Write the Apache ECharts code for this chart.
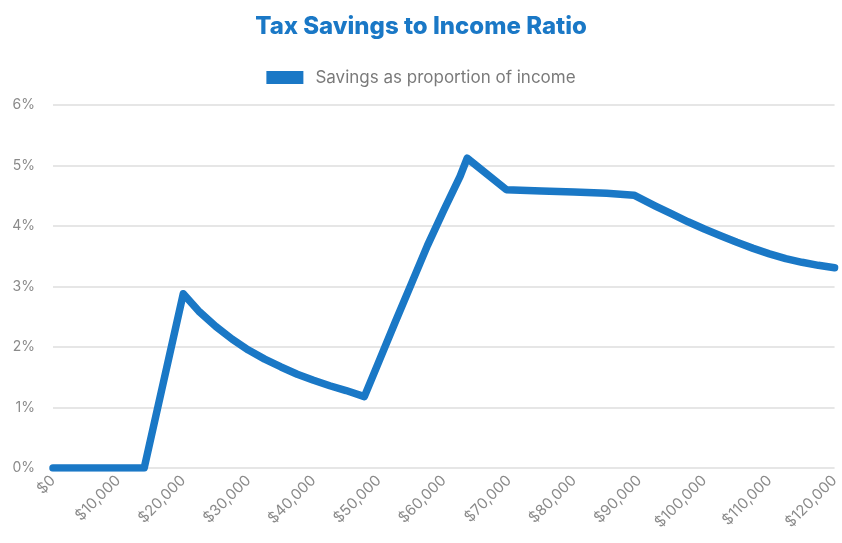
<!DOCTYPE html>
<html>
<head>
<meta charset="utf-8">
<script src="https://cdn.jsdelivr.net/npm/echarts@6/dist/echarts.min.js"></script>
<style>
html,body{margin:0;padding:0;background:#fff;}
#chart{width:842px;height:543px;}
</style>
</head>
<body>
<div id="chart"></div>
<script>
const titleText = 'Tax Savings to Income Ratio';
const seriesName = 'Savings as proportion of income';
const incomes = [0, 14000, 20000, 22500, 25000, 27500, 30000, 32500, 35000, 37500, 40000, 42500, 45000, 47800,
  50000, 52500, 55000, 57500, 60000, 62500, 63600, 69600, 75000, 80000, 85000, 89200,
  92500, 95000, 97500, 100000, 102500, 105000, 107500, 110000, 112500, 115000, 117500, 120000];
const ratios = [0, 0, 2.88, 2.58, 2.34, 2.13, 1.95, 1.80, 1.67, 1.55, 1.45, 1.36, 1.28, 1.18,
  1.75, 2.40, 3.04, 3.68, 4.26, 4.82, 5.12, 4.60, 4.58, 4.56, 4.54, 4.51,
  4.33, 4.20, 4.07, 3.95, 3.84, 3.73, 3.63, 3.54, 3.46, 3.40, 3.35, 3.31];
const yTicks = [0, 1, 2, 3, 4, 5, 6];

const points = incomes.map((x, i) => [x, ratios[i]]);
const fmtMoney = v => '$' + Math.round(v).toLocaleString('en-US');

const chart = echarts.init(document.getElementById('chart'));
chart.setOption({
  animation: false,
  backgroundColor: '#ffffff',
  title: {
    text: titleText,
    left: 'center',
    top: 10,
    textStyle: {fontFamily: 'Inter', fontWeight: 800, fontSize: 24, color: '#1a78c6'}
  },
  legend: {
    data: [{name: seriesName, icon: 'rect'}],
    left: 'center',
    top: 64,
    itemWidth: 37,
    itemHeight: 13,
    textStyle: {fontFamily: 'Inter', fontSize: 17, color: '#7a7a7a', padding: [0, 0, 0, 7]}
  },
  grid: {left: 53, right: 6, top: 105, bottom: 75, containLabel: false},
  xAxis: {
    type: 'value',
    min: 0, max: 120000, interval: 10000,
    axisLine: {show: false},
    axisTick: {show: false},
    splitLine: {show: false},
    axisLabel: {
      rotate: 45, margin: 10,
      formatter: fmtMoney,
      fontFamily: 'Inter', fontSize: 15, color: '#8a8a8a'
    }
  },
  yAxis: {
    type: 'value',
    min: yTicks[0], max: yTicks[yTicks.length - 1], interval: 1,
    axisLine: {show: false},
    axisTick: {show: false},
    splitLine: {lineStyle: {color: '#dedede', width: 1.5}},
    axisLabel: {
      formatter: '{value}%', margin: 18,
      fontFamily: 'Inter', fontSize: 14, color: '#8a8a8a'
    }
  },
  series: [{
    name: seriesName,
    type: 'line',
    data: points,
    showSymbol: false,
    symbol: 'none',
    color: '#1a78c6',
    lineStyle: {width: 7.5, color: '#1a78c6', cap: 'round', join: 'round'}
  }]
});
</script>
</body>
</html>
